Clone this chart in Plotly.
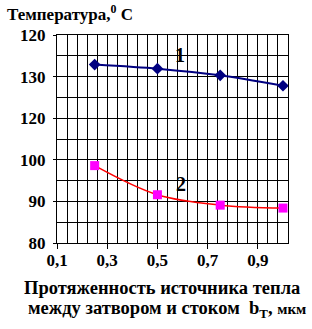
import plotly.graph_objects as go

# Data
x_vals = [0.25, 0.5, 0.75, 1.0]
temp_1 = [132.9, 131.9, 130.3, 127.8]
temp_2 = [98.6, 91.6, 89.1, 88.4]
y_tick_pos = [80, 90, 100, 110, 120, 130]
y_tick_text = ["80", "90", "100", "120", "130", "120"]
x_tick_vals = [0.1, 0.3, 0.5, 0.7, 0.9]
x_tick_text = ["0,1", "0,3", "0,5", "0,7", "0,9"]


def axis_pos(v):
    # broken axis: the span 100..120 is compressed to one 10-unit step
    return v if v <= 100 else v - 10


FONT = "Liberation Serif"
GRID = "#000000"

fig = go.Figure()
fig.add_trace(go.Scatter(
    x=x_vals, y=[axis_pos(v) for v in temp_1], mode="lines+markers",
    line=dict(color="#000080", width=2, shape="spline", smoothing=0.8),
    marker=dict(symbol="diamond", size=9, color="#000080"),
    showlegend=False, cliponaxis=False))
fig.add_trace(go.Scatter(
    x=x_vals, y=[axis_pos(v) for v in temp_2], mode="lines+markers",
    line=dict(color="#FF0000", width=1.5, shape="spline", smoothing=1.0),
    marker=dict(symbol="square", size=9, color="#FF00FF"),
    showlegend=False, cliponaxis=False))

fig.update_layout(
    width=312, height=329,
    margin=dict(l=57, r=24, t=35, b=86),
    paper_bgcolor="white", plot_bgcolor="white",
    font=dict(family=FONT, color="black"),
    xaxis=dict(
        range=[0.1, 1.02], tickvals=x_tick_vals,
        ticktext=["<b>%s</b>" % t for t in x_tick_text],
        ticks="outside", ticklen=5, tickcolor="black",
        ticklabelstandoff=-3,
        tickfont=dict(size=17, family=FONT, color="black"),
        showgrid=True, gridcolor=GRID, gridwidth=1,
        minor=dict(dtick=0.04, tick0=0.1, showgrid=True, gridcolor=GRID, gridwidth=1),
        showline=True, linecolor="black", linewidth=1, mirror=True,
        zeroline=False, fixedrange=True),
    yaxis=dict(
        range=[80, 130], tickvals=y_tick_pos,
        ticktext=["<b>%s</b>" % t for t in y_tick_text],
        ticks="outside", ticklen=3, tickcolor="black",
        ticklabelstandoff=4,
        tickfont=dict(size=17, family=FONT, color="black"),
        showgrid=True, gridcolor=GRID, gridwidth=1,
        minor=dict(dtick=5, tick0=80, showgrid=True, gridcolor=GRID, gridwidth=1),
        showline=True, linecolor="black", linewidth=1, mirror=True,
        zeroline=False, fixedrange=True),
    annotations=[
        dict(text="<b>Температура,<sup>0</sup> C</b>", xref="paper", yref="paper",
             x=-52/231, y=1 + 22/208, xanchor="left", yanchor="middle",
             showarrow=False, font=dict(size=17, family=FONT)),
        dict(text="<b>1</b>", x=0.59, y=axis_pos(135.3), xref="x", yref="y",
             showarrow=False, font=dict(size=20, family=FONT)),
        dict(text="<b>2</b>", x=0.595, y=axis_pos(94.2), xref="x", yref="y",
             showarrow=False, font=dict(size=20, family=FONT)),
        dict(text="<b>Протяженность источника тепла</b>", xref="paper", yref="paper",
             x=(162 - 57) / 231, y=-(288 - 243) / 208, xanchor="center", yanchor="middle",
             showarrow=False, font=dict(size=18.5, family=FONT)),
        dict(text="<b>между затвором и стоком  b<sub>T</sub>, <span style='font-size:15px'>мкм</span></b>",
             xref="paper", yref="paper",
             x=(167 - 57) / 231, y=-(309 - 243) / 208, xanchor="center", yanchor="middle",
             showarrow=False, font=dict(size=18.5, family=FONT)),
    ],
)

fig.write_html("out.html")
